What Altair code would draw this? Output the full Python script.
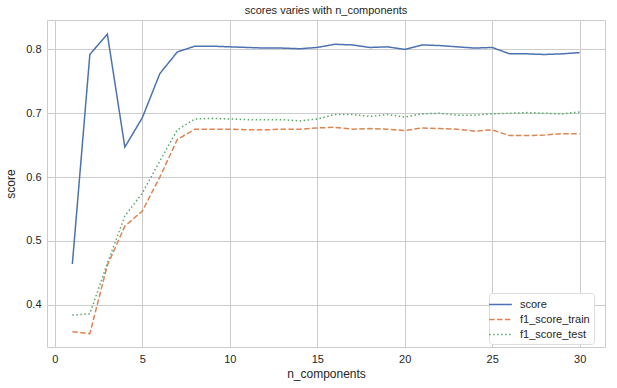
import altair as alt
import pandas as pd

n_components = list(range(1, 31))
score = [0.464, 0.792, 0.824, 0.647, 0.693, 0.762, 0.796, 0.805, 0.805, 0.804,
         0.803, 0.802, 0.802, 0.801, 0.803, 0.808, 0.807, 0.803, 0.804, 0.800,
         0.807, 0.806, 0.804, 0.802, 0.803, 0.793, 0.793, 0.792, 0.793, 0.795]
f1_score_train = [0.358, 0.355, 0.462, 0.523, 0.547, 0.600, 0.659, 0.675, 0.675, 0.675,
                  0.674, 0.674, 0.675, 0.675, 0.677, 0.678, 0.675, 0.676, 0.675, 0.673,
                  0.677, 0.676, 0.675, 0.672, 0.674, 0.665, 0.665, 0.666, 0.668, 0.668]
f1_score_test = [0.384, 0.386, 0.465, 0.539, 0.575, 0.625, 0.674, 0.691, 0.692, 0.691,
                 0.690, 0.690, 0.690, 0.688, 0.691, 0.698, 0.698, 0.695, 0.698, 0.694,
                 0.699, 0.700, 0.697, 0.697, 0.699, 0.700, 0.701, 0.700, 0.699, 0.702]

series_names = ["score", "f1_score_train", "f1_score_test"]
series_colors = ["#4c72b0", "#dd8452", "#55a868"]
series_dash = [[1, 0], [5.5, 2.4], [1.5, 2.5]]

rows = []
for name, vals in zip(series_names, [score, f1_score_train, f1_score_test]):
    for x, v in zip(n_components, vals):
        rows.append({"n_components": x, "value": v, "series": name})
df = pd.DataFrame(rows)

font = "Liberation Sans"

chart = alt.Chart(df).mark_line(strokeWidth=1.5).encode(
    x=alt.X("n_components:Q", title="n_components",
            scale=alt.Scale(domain=[-0.45, 31.45], nice=False, zero=False),
            axis=alt.Axis(values=[0, 5, 10, 15, 20, 25, 30], format="d")),
    y=alt.Y("value:Q", title="score",
            scale=alt.Scale(domain=[0.334, 0.846], nice=False, zero=False),
            axis=alt.Axis(values=[0.4, 0.5, 0.6, 0.7, 0.8], format=".1f")),
    color=alt.Color("series:N", title=None,
                    scale=alt.Scale(domain=series_names, range=series_colors),
                    legend=alt.Legend(orient="none", legendX=442, legendY=273,
                                      symbolType="M-1.75,0L1.75,0", symbolSize=169,
                                      symbolStrokeWidth=1.5,
                                      fillColor="white", strokeColor="#dddddd",
                                      padding=4, cornerRadius=3, rowPadding=2,
                                      labelFontSize=11, labelFont=font,
                                      labelOffset=12,
                                      labelColor="#262626")),
    strokeDash=alt.StrokeDash("series:N", title=None,
                              scale=alt.Scale(domain=series_names, range=series_dash),
                              legend=None),
    detail="series:N",
).properties(
    width=558, height=327,
    title=alt.TitleParams("scores varies with n_components", fontSize=11,
                          fontWeight="normal", font=font, color="#262626", offset=4),
    padding={"left": 47, "top": 20, "right": 12, "bottom": 41},
    autosize=alt.AutoSizeParams(type="none"),
).configure_view(
    stroke="#cccccc", strokeWidth=1
).configure_axis(
    grid=True, gridColor="#cccccc", gridWidth=1, domain=False, ticks=False,
    labelFont=font, labelFontSize=11, labelColor="#262626", labelPadding=6,
    titleFont=font, titleFontSize=12, titleFontWeight="normal", titleColor="#262626",
).configure_axisX(titlePadding=4).configure_axisY(titlePadding=8)

chart.save("out.html", embed_options={"renderer": "svg", "actions": False})
